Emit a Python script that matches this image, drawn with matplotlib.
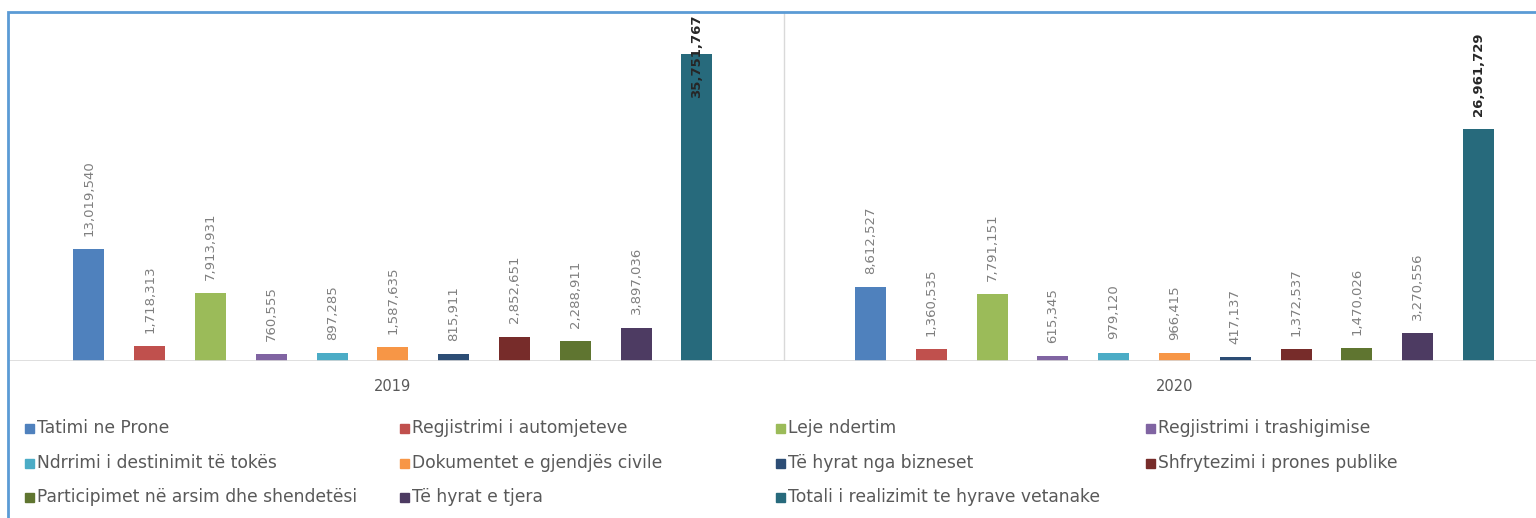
#!/usr/bin/env python3
"""Own-source revenue by category, 2019 vs 2020 (grouped bars, Excel-style)."""

import numpy as np
import matplotlib.pyplot as plt
from matplotlib.patches import Rectangle

years = ["2019", "2020"]

categories = [
    "Tatimi ne Prone",
    "Regjistrimi i automjeteve",
    "Leje ndertim",
    "Regjistrimi i trashigimise",
    "Ndrrimi i destinimit të tokës",
    "Dokumentet e gjendjës civile",
    "Të hyrat nga bizneset",
    "Shfrytezimi i prones publike",
    "Participimet në arsim dhe shendetësi",
    "Të hyrat e tjera",
    "Totali i realizimit te hyrave vetanake",
]

values_2019 = [13019540, 1718313, 7913931, 760555, 897285, 1587635,
               815911, 2852651, 2288911, 3897036, 35751767]
values_2020 = [8612527, 1360535, 7791151, 615345, 979120, 966415,
               417137, 1372537, 1470026, 3270556, 26961729]

colors = ["#4F81BD", "#C0504D", "#9BBB59", "#8064A2", "#4BACC6", "#F79646",
          "#2C4D75", "#772C2A", "#5F7530", "#4D3B62", "#276A7C"]

W, H = 1536, 518
fig = plt.figure(figsize=(W / 100, H / 100), dpi=100)

# plot area in pixels: left 8, top 12, baseline at 361
ax = fig.add_axes([8 / W, 1 - 361 / H, (W - 8) / W, (361 - 12) / H])

n = len(categories)
step = 0.0778
width = 0.0397
offsets = (np.arange(n) - (n - 1) / 2) * step
ymax = 40.64e6

for i in range(n):
    vals = [values_2019[i], values_2020[i]]
    xs = np.arange(len(years)) + offsets[i]
    ax.bar(xs, vals, width=width, color=colors[i], label=categories[i], zorder=2)
    is_total = i == n - 1
    for x, v in zip(xs, vals):
        lbl = f"{v:,}"
        kw = dict(rotation=90, ha="center", fontsize=9.5,
                  color="#262626" if is_total else "#7F7F7F",
                  fontweight="bold" if is_total else "normal")
        if v + 10e6 > ymax:
            ax.annotate(lbl, (x, ymax), xytext=(0, -2), textcoords="offset points",
                        va="top", **kw)
        else:
            ax.annotate(lbl, (x, v), xytext=(0, 9.5), textcoords="offset points",
                        va="bottom", **kw)

ax.set_xlim(-0.4926, 1.4626)
ax.set_ylim(0, ymax)
ax.axvline(0.5, color="#D9D9D9", lw=1, zorder=1)
ax.axhline(0, color="#D9D9D9", lw=1.2, zorder=3)
for s in ax.spines.values():
    s.set_visible(False)
ax.set_yticks([])
ax.set_xticks(range(len(years)))
ax.set_xticklabels(years, fontsize=10.5, color="#595959")
ax.tick_params(axis="x", length=0, pad=13)

# legend, row-major in 4 columns
col_x = [25, 400, 776, 1146]
row_y = [428, 463, 497]
for i, (name, c) in enumerate(zip(categories, colors)):
    r, k = divmod(i, 4)
    x0, y0 = col_x[k], row_y[r]
    fig.patches.append(Rectangle((x0 / W, 1 - (y0 + 4.5) / H), 9 / W, 9 / H,
                                 transform=fig.transFigure, color=c))
    fig.text((x0 + 12) / W, 1 - y0 / H, name, fontsize=12.3, color="#595959",
             va="center", ha="left")

# chart frame
fig.patches.append(Rectangle((8 / W, -0.1), 1.2, 1 - 12 / H + 0.1,
                             transform=fig.transFigure, fill=False,
                             edgecolor="#5B9BD5", lw=2))

fig.savefig("out.png", dpi=100)
